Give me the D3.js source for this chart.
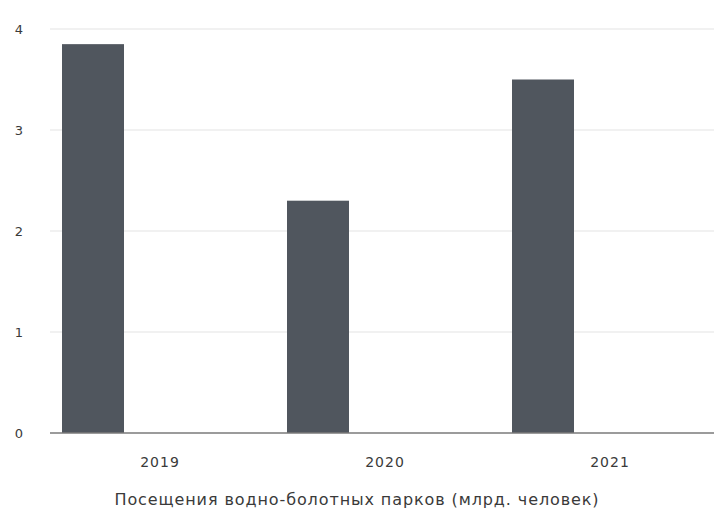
<!DOCTYPE html>
<html><head><meta charset="utf-8">
<script src="https://cdn.jsdelivr.net/npm/d3@7"></script>
<style>body{margin:0;background:#fff;}svg{display:block;font-family:"DejaVu Sans",sans-serif;}</style>
</head><body><svg id="c" width="714" height="510"></svg>
<script>
const categories = ["2019", "2020", "2021"];
const values = [3.85, 2.3, 3.5];
const yTicks = [0, 1, 2, 3, 4];
const title = "Посещения водно-болотных парков (млрд. человек)";

const svg = d3.select("#c");
const plot = {left: 50, right: 714, top: 29, bottom: 433};

const y = d3.scaleLinear().domain([0, 4]).range([plot.bottom, plot.top]);
const x = d3.scaleBand().domain(categories).range([47.5, 722.5]).padding(0);
const barOffset = 14.5, barWidth = 62;

// gridlines
svg.append("g").selectAll("line").data(yTicks.filter(t => t > 0)).join("line")
  .attr("x1", plot.left).attr("x2", plot.right)
  .attr("y1", d => y(d)).attr("y2", d => y(d))
  .attr("stroke", "#e3e3e3").attr("stroke-width", 1);

// y tick labels
svg.append("g").selectAll("text").data(yTicks).join("text")
  .attr("x", 19).attr("y", d => y(d)).attr("dy", "0.35em")
  .attr("text-anchor", "middle").attr("fill", "#3a3a3a").attr("font-size", 13)
  .text(d => d);

// bars
svg.append("g").selectAll("rect").data(categories.map((c, i) => ({c, v: values[i]}))).join("rect")
  .attr("x", d => x(d.c) + barOffset).attr("width", barWidth)
  .attr("y", d => y(d.v)).attr("height", d => y(0) - y(d.v))
  .attr("fill", "#50565e");

// baseline
svg.append("line").attr("x1", plot.left).attr("x2", plot.right)
  .attr("y1", y(0)).attr("y2", y(0)).attr("stroke", "#7a7a7a").attr("stroke-width", 1.5);

// x labels
svg.append("g").selectAll("text").data(categories).join("text")
  .attr("x", d => x(d) + x.bandwidth() / 2).attr("y", 462).attr("dy", "0.35em")
  .attr("text-anchor", "middle").attr("fill", "#3a3a3a").attr("font-size", 14)
  .attr("letter-spacing", 1)
  .text(d => d);

// title
svg.append("text").attr("x", 357).attr("y", 499).attr("dy", "0.35em")
  .attr("text-anchor", "middle").attr("fill", "#3a3a3a").attr("font-size", 16)
  .attr("letter-spacing", 0.9)
  .text(title);
</script></body></html>
